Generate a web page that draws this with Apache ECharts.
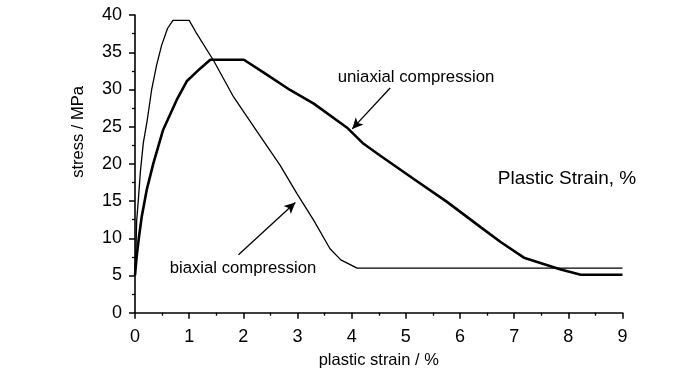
<!DOCTYPE html>
<html>
<head>
<meta charset="utf-8">
<script src="https://cdn.jsdelivr.net/npm/echarts@6/dist/echarts.min.js"></script>
<style>html,body{margin:0;padding:0;background:#fff;overflow:hidden}#c{width:700px;height:373px}</style>
</head>
<body>
<div id="c"></div>
<script>
// Biaxial compression (thin curve): [strain %, stress MPa]
const biaxialStrain = [0, 0.02, 0.03, 0.06, 0.10, 0.153, 0.22, 0.31, 0.40, 0.49, 0.60, 0.70, 1.00, 1.14, 1.45, 1.82, 2.22, 2.68, 2.99, 3.30, 3.60, 3.80, 4.10, 9.00];
const biaxialStress = [5.0, 9.0, 12.3, 15.0, 19.0, 22.8, 25.6, 30.1, 33.3, 35.9, 38.2, 39.3, 39.3, 37.5, 33.9, 29.0, 24.7, 19.8, 16.0, 12.4, 8.6, 7.1, 6.0, 6.0];
// Uniaxial compression (thick curve)
const uniaxialStrain = [0, 0.03, 0.07, 0.124, 0.216, 0.34, 0.52, 0.77, 0.955, 1.20, 1.39, 2.01, 2.37, 2.87, 3.30, 3.91, 4.22, 4.53, 5.14, 5.76, 6.38, 6.75, 7.18, 7.86, 8.23, 9.00];
const uniaxialStress = [5.0, 7.5, 10.0, 12.9, 16.5, 20.1, 24.6, 28.6, 31.1, 32.8, 34.0, 34.0, 32.3, 29.9, 28.1, 24.9, 22.7, 21.1, 18.0, 14.9, 11.5, 9.5, 7.4, 5.8, 5.1, 5.1];
// Annotation arrows: [tailX, tailY, tipX, tipY] in data units
const biaxialArrow = [1.91, 7.8, 2.96, 14.8];
const uniaxialArrow = [4.71, 30.2, 4.01, 24.7];
const xTicks = { min: 0, max: 9, interval: 1 };
const yTicks = { min: 0, max: 40, interval: 5 };
const labels = {
  xName: 'plastic strain / %',
  yName: 'stress / MPa',
  biaxial: 'biaxial compression',
  uniaxial: 'uniaxial compression',
  note: 'Plastic Strain, %'
};

const zip = (a, b) => a.map((v, i) => [v, b[i]]);
const FONT = '"Liberation Sans", Arial, sans-serif';

const chart = echarts.init(document.getElementById('c'), null, { renderer: 'canvas', width: 700, height: 373 });
const axisCommon = {
  axisLine: { show: true, onZero: false, lineStyle: { color: '#000', width: 1.6 } },
  axisTick: { show: true, inside: false, length: 6, lineStyle: { color: '#000', width: 1.5 } },
  minorTick: { show: true, splitNumber: 2, length: 3, lineStyle: { color: '#000', width: 1.3 } },
  splitLine: { show: false },
  axisLabel: { color: '#000', fontSize: 18, fontFamily: FONT }
};
chart.setOption({
  animation: false,
  backgroundColor: '#fff',
  grid: { left: 135, right: 77.5, top: 15.1, bottom: 60.3, containLabel: false, outerBoundsMode: 'none' },
  xAxis: Object.assign({}, axisCommon, {
    type: 'value', min: xTicks.min, max: xTicks.max, interval: xTicks.interval,
    name: labels.xName, nameLocation: 'middle', nameGap: 39,
    nameTextStyle: { color: '#000', fontSize: 16.5, fontFamily: FONT },
    axisLabel: Object.assign({}, axisCommon.axisLabel, { margin: 15 })
  }),
  yAxis: Object.assign({}, axisCommon, {
    type: 'value', min: yTicks.min, max: yTicks.max, interval: yTicks.interval,
    axisLabel: Object.assign({}, axisCommon.axisLabel, { margin: 13 })
  }),
  series: [
    {
      type: 'line', name: labels.biaxial, data: zip(biaxialStrain, biaxialStress),
      showSymbol: false, smooth: false,
      lineStyle: { color: '#000', width: 1.3 },
      markLine: {
        silent: true, symbol: ['none', 'arrow'], symbolSize: [8, 11],
        label: { show: false },
        lineStyle: { color: '#000', width: 1.3, type: 'solid' },
        data: [[{ coord: [biaxialArrow[0], biaxialArrow[1]] }, { coord: [biaxialArrow[2], biaxialArrow[3]] }]]
      }
    },
    {
      type: 'line', name: labels.uniaxial, data: zip(uniaxialStrain, uniaxialStress),
      showSymbol: false, smooth: false,
      lineStyle: { color: '#000', width: 2.6 },
      markLine: {
        silent: true, symbol: ['none', 'arrow'], symbolSize: [8, 11],
        label: { show: false },
        lineStyle: { color: '#000', width: 1.3, type: 'solid' },
        data: [[{ coord: [uniaxialArrow[0], uniaxialArrow[1]] }, { coord: [uniaxialArrow[2], uniaxialArrow[3]] }]]
      }
    }
  ],
  graphic: [
    { type: 'text', x: 78, y: 132, rotation: Math.PI / 2,
      style: { text: labels.yName, fill: '#000', font: '16.5px ' + FONT, textAlign: 'center', textVerticalAlign: 'middle' } },
    { type: 'text', x: 416, y: 77,
      style: { text: labels.uniaxial, fill: '#000', font: '16.8px ' + FONT, textAlign: 'center', textVerticalAlign: 'middle' } },
    { type: 'text', x: 243, y: 268,
      style: { text: labels.biaxial, fill: '#000', font: '16.7px ' + FONT, textAlign: 'center', textVerticalAlign: 'middle' } },
    { type: 'text', x: 567, y: 179,
      style: { text: labels.note, fill: '#000', font: '19px ' + FONT, textAlign: 'center', textVerticalAlign: 'middle' } }
  ]
});
</script>
</body>
</html>
